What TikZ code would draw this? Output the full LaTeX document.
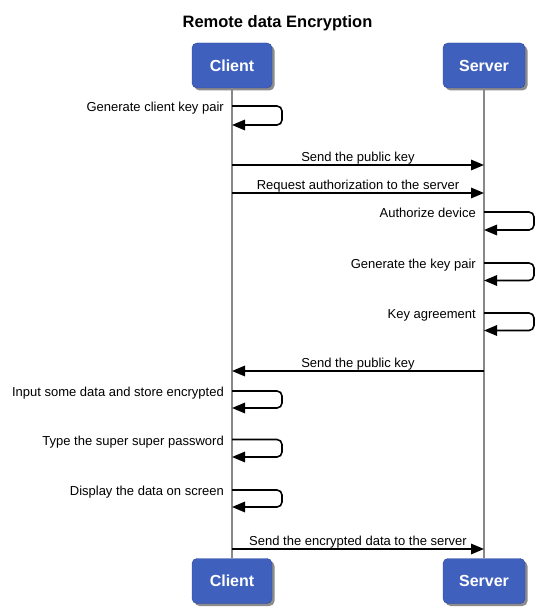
\documentclass[tikz,border=0pt]{standalone}
\usepackage{fontspec}
\setmainfont{Liberation Sans}
\usetikzlibrary{arrows.meta,shadows}
\definecolor{boxblue}{RGB}{64,96,190}
\definecolor{boxborder}{RGB}{45,70,150}
\definecolor{lifegray}{RGB}{136,136,136}
\begin{document}
\begin{tikzpicture}[x=1pt,y=-1pt,
  actor/.style={draw=boxborder, fill=boxblue, rounded corners=5pt, minimum width=80pt, minimum height=45pt, inner sep=0pt, text=white, font=\fontsize{16}{16}\selectfont\bfseries, drop shadow={shadow xshift=2.5pt,shadow yshift=-2.5pt,opacity=0.45,fill=black}},
  life/.style={draw=lifegray, line width=1.4pt},
  msg/.style={draw=black, line width=1.6pt, -{Triangle[length=13pt,width=10.5pt]}},
  selfmsg/.style={msg, rounded corners=5pt},
  lbl/.style={font=\fontsize{13}{13}\selectfont, inner sep=0pt, anchor=base},
  slbl/.style={lbl, anchor=base east},
  titlelbl/.style={font=\fontsize{16.5}{16.5}\selectfont\bfseries, inner sep=0pt, anchor=base}]
\useasboundingbox (0,0) rectangle (551,612);
\node[titlelbl] (title) at (277.5,28) {Remote data Encryption};
% actors
\node[actor] (ct) at (232,65.5) {Client};
\node[actor, minimum width=82pt] (st) at (484,65.5) {Server};
\node[actor] (cb) at (232,581) {Client};
\node[actor, minimum width=82pt] (sb) at (484,581) {Server};
% lifelines
\draw[life] (ct.south) -- (cb.north);
\draw[life] (st.south) -- (sb.north);
% messages between lifelines
\coordinate (m1c) at (232,165);   \coordinate (m1s) at (484,165);
\coordinate (m2c) at (232,193);   \coordinate (m2s) at (484,193);
\coordinate (m3c) at (232,371);   \coordinate (m3s) at (484,371);
\coordinate (m4c) at (232,549);   \coordinate (m4s) at (484,549);
\draw[msg] (m1c) -- (m1s);
\node[lbl] (l1) at (358,161.5) {Send the public key};
\draw[msg] (m2c) -- (m2s);
\node[lbl] (l2) at (358,189.5) {Request authorization to the server};
\draw[msg] (m3s) -- (m3c);
\node[lbl] (l3) at (358,367.5) {Send the public key};
\draw[msg] (m4c) -- (m4s);
\node[lbl] (l4) at (358,545.5) {Send the encrypted data to the server};
% self messages
\coordinate (a1) at (232,106);   \coordinate (b1) at (232,125);
\coordinate (a2) at (484,212);   \coordinate (b2) at (484,230);
\coordinate (a3) at (484,263);   \coordinate (b3) at (484,280.5);
\coordinate (a4) at (484,313);   \coordinate (b4) at (484,330.5);
\coordinate (a5) at (232,391);   \coordinate (b5) at (232,408);
\coordinate (a6) at (232,439.5); \coordinate (b6) at (232,457);
\coordinate (a7) at (232,490);   \coordinate (b7) at (232,507);
\draw[selfmsg] (a1) -- ++(50,0) |- (b1);
\draw[selfmsg] (a2) -- ++(50,0) |- (b2);
\draw[selfmsg] (a3) -- ++(50,0) |- (b3);
\draw[selfmsg] (a4) -- ++(50,0) |- (b4);
\draw[selfmsg] (a5) -- ++(50,0) |- (b5);
\draw[selfmsg] (a6) -- ++(50,0) |- (b6);
\draw[selfmsg] (a7) -- ++(50,0) |- (b7);
\node[slbl] (t1) at ([xshift=-8pt,yshift=-5.5pt]a1) {Generate client key pair};
\node[slbl] (t2) at ([xshift=-8pt,yshift=-5.5pt]a2) {Authorize device};
\node[slbl] (t3) at ([xshift=-8pt,yshift=-5.5pt]a3) {Generate the key pair};
\node[slbl] (t4) at ([xshift=-8pt,yshift=-5.5pt]a4) {Key agreement};
\node[slbl] (t5) at ([xshift=-8pt,yshift=-5.5pt]a5) {Input some data and store encrypted};
\node[slbl] (t6) at ([xshift=-8pt,yshift=-5.5pt]a6) {Type the super super password};
\node[slbl] (t7) at ([xshift=-8pt,yshift=-5.5pt]a7) {Display the data on screen};
\end{tikzpicture}
\end{document}
